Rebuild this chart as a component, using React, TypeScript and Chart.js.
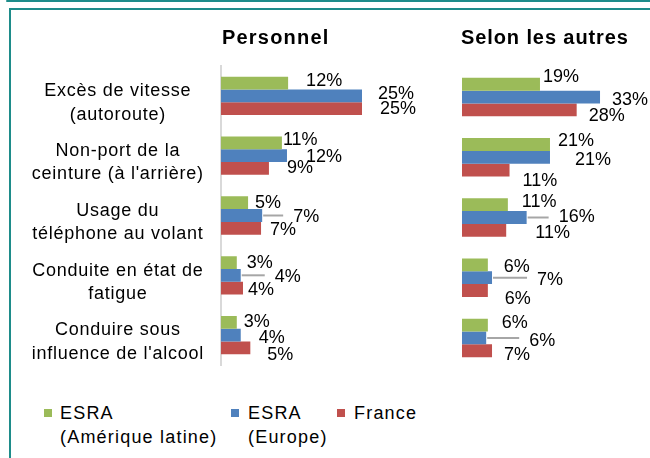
import React, { useEffect, useRef } from "react";
import { Chart, registerables } from "chart.js";
Chart.register(...registerables);

// ---- data ----
const categories: string[][] = [
  ["Excès de vitesse", "(autoroute)"],
  ["Non-port de la", "ceinture (à l'arrière)"],
  ["Usage du", "téléphone au volant"],
  ["Conduite en état de", "fatigue"],
  ["Conduire sous", "influence de l'alcool"],
];
const panelTitles = ["Personnel", "Selon les autres"];
const seriesNames: string[][] = [["ESRA", "(Amérique latine)"], ["ESRA", "(Europe)"], ["France"]];

const personnelLatam = [11.9, 10.8, 4.8, 2.8, 2.8];
const personnelEurope = [25.0, 11.7, 7.3, 3.5, 3.5];
const personnelFrance = [25.0, 8.5, 7.1, 3.9, 5.2];

const autresLatam = [18.7, 21.1, 11.0, 6.2, 6.2];
const autresEurope = [33.1, 21.1, 15.5, 7.2, 5.8];
const autresFrance = [27.5, 11.4, 10.6, 6.2, 7.2];

// ---- styles ----
const COLORS = ["#9BBB59", "#4F81BD", "#C0504D"];
const FAMILY = '"Liberation Sans", Arial, sans-serif';
const TEAL = "#1e8c8a";

// label placement [dx from bar end, dy from bar centre, leader line]
const personnelLabelPos: number[][][] = [
  [[18, -2.5, 0], [1, -2.5, 0], [7, 0, 0], [10, 0, 0], [7, 0, 0]],
  [[16, -2, 0], [19, 1.5, 0], [31, 2, 1], [34, 2, 1], [18, 3, 0]],
  [[18, 0, 0], [18, 0, 0], [9, 2, 0], [5, 1.5, 0], [17, 7, 0]],
];
const autresLabelPos: number[][][] = [
  [[3, -7.5, 0], [8, -3, 0], [14, -2.5, 0], [16, 2, 0], [14, -2.5, 0]],
  [[12, 2.5, 0], [25, 3, 0], [32, 0, 1], [45, 2.5, 1], [43, 3, 1]],
  [[12, 6.5, 0], [13, 11, 0], [29, 2.5, 0], [17, 8, 0], [12, 4, 0]],
];

const spacingPlugin = {
  id: "spacing",
  beforeUpdate(c: any) { c.ctx.letterSpacing = "0.75px"; },
  beforeDraw(c: any) { c.ctx.letterSpacing = "0.75px"; },
};

function makeLabelPlugin(pos: number[][][]) {
  return {
    id: "valueLabels",
    afterDatasetsDraw(chart: any) {
      const ctx = chart.ctx;
      ctx.save();
      ctx.letterSpacing = "0px";
      ctx.font = `18px ${FAMILY}`;
      ctx.fillStyle = "#000";
      ctx.textBaseline = "middle";
      ctx.textAlign = "left";
      chart.data.datasets.forEach((ds: any, di: number) => {
        const meta = chart.getDatasetMeta(di);
        meta.data.forEach((bar: any, i: number) => {
          const [dx, dy, leader] = pos[di][i];
          const x = bar.x + dx;
          const y = bar.y + dy;
          if (leader) {
            ctx.strokeStyle = "#a6a6a6";
            ctx.lineWidth = 2;
            ctx.beginPath();
            ctx.moveTo(bar.x + 1, bar.y);
            ctx.lineTo(x - 10, bar.y);
            ctx.stroke();
          }
          ctx.fillText(Math.round(ds.data[i]) + "%", x, y);
        });
      });
      ctx.restore();
    },
  };
}

function makeDatasets(a: number[], b: number[], c: number[]) {
  return [a, b, c].map((d, i) => ({
    label: seriesNames[i].join(" "),
    data: d,
    backgroundColor: COLORS[i],
    borderWidth: 0,
    barPercentage: 1,
    categoryPercentage: 0.64,
  }));
}

function Panel({ left, width, withAxis, data, pos, max, padding }: any) {
  const ref = useRef<HTMLCanvasElement>(null);
  useEffect(() => {
    const chart = new Chart(ref.current as HTMLCanvasElement, {
      type: "bar",
      data: { labels: categories, datasets: makeDatasets(data[0], data[1], data[2]) },
      options: {
        indexAxis: "y",
        animation: false,
        responsive: false,
        layout: { padding },
        plugins: { legend: { display: false }, tooltip: { enabled: false } },
        scales: {
          x: { display: false, min: 0, max },
          y: withAxis
            ? {
                grid: { display: false, drawTicks: false },
                border: { display: true, color: "#d9d9d9", width: 2 },
                ticks: {
                  color: "#000",
                  font: { size: 18, family: FAMILY, lineHeight: 1.3 },
                  crossAlign: "center",
                  padding: 17,
                  labelOffset: 7,
                  autoSkip: false,
                },
                afterFit(scale: any) {
                  scale.width = 221;
                  scale.paddingTop = 0;
                  scale.paddingBottom = 0;
                },
              }
            : { display: false },
        },
      },
      plugins: [spacingPlugin, makeLabelPlugin(pos)],
    } as any);
    return () => chart.destroy();
  }, []);
  return (
    <canvas
      ref={ref}
      width={width}
      height={380}
      style={{ position: "absolute", left, top: 0, width, height: 380 }}
    />
  );
}

export default function App() {
  const text: React.CSSProperties = {
    position: "absolute",
    fontFamily: FAMILY,
    fontSize: 18,
    letterSpacing: "1.2px",
    lineHeight: "24px",
    color: "#000",
    whiteSpace: "nowrap",
  };
  const legendX = [[44, 60], [231, 248], [337, 354]];
  return (
    <div style={{ position: "fixed", left: 0, top: 0, width: 650, height: 458, background: "#fff", overflow: "hidden" }}>
      <div style={{ position: "absolute", left: 6, top: 0, width: 660, height: 2, background: TEAL, borderRadius: 1 }} />
      <div style={{ position: "absolute", left: 9, top: 8, width: 660, height: 470, borderLeft: `2px solid ${TEAL}`, borderTop: `2px solid ${TEAL}` }} />
      <Panel left={0} width={440} withAxis data={[personnelLatam, personnelEurope, personnelFrance]} pos={personnelLabelPos} max={30} padding={{ left: 0, right: 49.8, top: 66, bottom: 15 }} />
      <Panel left={440} width={210} withAxis={false} data={[autresLatam, autresEurope, autresFrance]} pos={autresLabelPos} max={40} padding={{ left: 22, right: 21.2, top: 67, bottom: 12 }} />
      <div style={{ ...text, left: 222, top: 25, fontWeight: "bold", fontSize: 20, letterSpacing: "1.2px", lineHeight: "24px" }}>{panelTitles[0]}</div>
      <div style={{ ...text, left: 461, top: 25, fontWeight: "bold", fontSize: 20, letterSpacing: "0.9px", lineHeight: "24px" }}>{panelTitles[1]}</div>
      {seriesNames.map((lines, i) => (
        <React.Fragment key={i}>
          <div style={{ position: "absolute", left: legendX[i][0], top: 409, width: 8, height: 8, background: COLORS[i] }} />
          <div style={{ ...text, left: legendX[i][1], top: 401 }}>
            {lines.map((l, j) => (<div key={j}>{l}</div>))}
          </div>
        </React.Fragment>
      ))}
    </div>
  );
}
